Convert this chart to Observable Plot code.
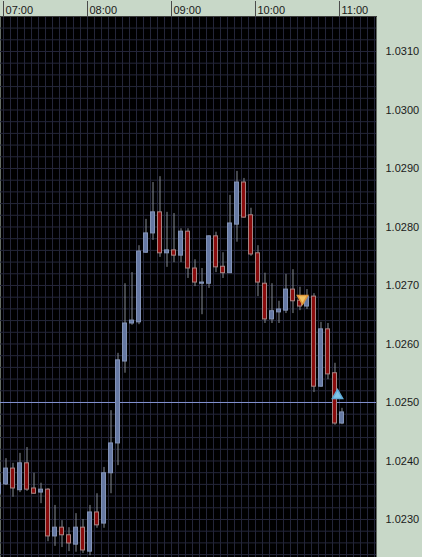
<!DOCTYPE html>
<html><head><meta charset="utf-8">
<script src="https://cdn.jsdelivr.net/npm/d3@7"></script>
<script src="https://cdn.jsdelivr.net/npm/@observablehq/plot@0.6"></script>
<style>html,body{margin:0;padding:0;background:#c8d8c8;overflow:hidden;}</style>
</head><body><div id="chart"></div>
<script>
const times = ["06:55","07:00","07:05","07:10","07:15","07:20","07:25","07:30","07:35","07:40","07:45","07:50","07:55",
  "08:00","08:05","08:10","08:15","08:20","08:25","08:30","08:35","08:40","08:45","08:50","08:55",
  "09:00","09:05","09:10","09:15","09:20","09:25","09:30","09:35","09:40","09:45","09:50","09:55",
  "10:00","10:05","10:10","10:15","10:20","10:25","10:30","10:35","10:40","10:45","10:50","10:55","11:00"];
const opens  = [1.02344,1.02360,1.02387,1.02350,1.02396,1.02353,1.02346,1.02351,1.02271,1.02286,1.02273,1.02257,1.02286,
  1.02245,1.02312,1.02293,1.02379,1.02430,1.02570,1.02635,1.02637,1.02756,1.02789,1.02825,1.02755,
  1.02760,1.02751,1.02792,1.02729,1.02703,1.02703,1.02784,1.02732,1.02721,1.02804,1.02876,1.02820,
  1.02755,1.02703,1.02642,1.02654,1.02657,1.02693,1.02674,1.02664,1.02681,1.02527,1.02625,1.02550,1.02464];
const highs  = [1.02367,1.02404,1.02396,1.02413,1.02423,1.02379,1.02362,1.02353,1.02324,1.02298,1.02286,1.02310,1.02300,
  1.02324,1.02344,1.02389,1.02486,1.02584,1.02703,1.02722,1.02768,1.02813,1.02876,1.02886,1.02825,
  1.02823,1.02797,1.02797,1.02744,1.02729,1.02785,1.02791,1.02756,1.02854,1.02895,1.02883,1.02832,
  1.02768,1.02721,1.02703,1.02673,1.02719,1.02727,1.02697,1.02693,1.02686,1.02637,1.02635,1.02567,1.02490];
const lows   = [1.02341,1.02358,1.02338,1.02346,1.02348,1.02343,1.02327,1.02262,1.02254,1.02252,1.02245,1.02244,1.02242,
  1.02238,1.02285,1.02285,1.02344,1.02392,1.02550,1.02632,1.02633,1.02755,1.02777,1.02748,1.02731,
  1.02739,1.02739,1.02712,1.02698,1.02650,1.02695,1.02722,1.02712,1.02721,1.02774,1.02815,1.02750,
  1.02681,1.02635,1.02635,1.02635,1.02652,1.02652,1.02657,1.02659,1.02517,1.02526,1.02539,1.02461,1.02462];
const closes = [1.02362,1.02387,1.02353,1.02396,1.02351,1.02344,1.02351,1.02271,1.02286,1.02273,1.02259,1.02286,1.02247,
  1.02312,1.02290,1.02379,1.02430,1.02572,1.02635,1.02640,1.02758,1.02789,1.02825,1.02755,1.02760,
  1.02751,1.02792,1.02729,1.02705,1.02705,1.02784,1.02731,1.02721,1.02806,1.02876,1.02816,1.02753,
  1.02705,1.02642,1.02656,1.02659,1.02693,1.02673,1.02664,1.02681,1.02527,1.02625,1.02548,1.02464,1.02483];
const priceTicks = [1.0230,1.0240,1.0250,1.0260,1.0270,1.0280,1.0290,1.0300,1.0310];
const hourTicks = ["07:00","08:00","09:00","10:00","11:00"];
const levelLine = [1.0250];
const signalTimes = ["10:33:36","10:58:36"];
const signalPrices = [1.02678,1.02512];
const signalDirs = ["sell","buy"];
const viewStart = "06:57:51", viewEnd = "11:26:26";
const priceMin = 1.02235, priceMax = 1.031598;

const toDate = s => new Date("2011-01-03T" + (s.length === 5 ? s + ":00" : s) + "Z");
const MIN = 60000;
const bars = times.map((t, i) => ({t: toDate(t), o: opens[i], h: highs[i], l: lows[i], c: closes[i]}));
const signals = signalTimes.map((t, i) => ({t: toDate(t), p: signalPrices[i], dir: signalDirs[i]}));

const bullFill = "#6679a3", bullStroke = "#8494b8";
const bearFill = "#8a0c0c", bearStroke = "#a88484";
const wickColor = "#858b93";
const gridColor = "#24263a";

const chart = Plot.plot({
  width: 422, height: 557,
  marginTop: 16, marginRight: 46, marginBottom: 0, marginLeft: 0,
  style: {background: "#c8d8c8", fontFamily: "'Liberation Sans', Arial, sans-serif", fontSize: "11px", color: "#1a1a1a"},
  x: {type: "utc", domain: [toDate(viewStart), toDate(viewEnd)], label: null},
  y: {domain: [priceMin, priceMax], label: null},
  marks: [
    Plot.frame({fill: "#000", stroke: null}),
    Plot.gridX({ticks: d3.utcMinute.every(5), stroke: gridColor, strokeOpacity: 1}),
    Plot.gridY({ticks: 46, stroke: gridColor, strokeOpacity: 1}),
    Plot.ruleY(levelLine, {stroke: "#8494d4", strokeWidth: 1}),
    Plot.ruleX(bars, {x: d => new Date(+d.t + 1.786 * MIN), y1: "l", y2: "h", stroke: wickColor}),
    Plot.rect(bars, {filter: d => d.c >= d.o, x1: d => new Date(+d.t + 0.357 * MIN), x2: d => new Date(+d.t + 3.214 * MIN), y1: "o", y2: "c", fill: bullFill, stroke: bullStroke}),
    Plot.rect(bars, {filter: d => d.c < d.o, x1: d => new Date(+d.t + 0.357 * MIN), x2: d => new Date(+d.t + 3.214 * MIN), y1: "o", y2: "c", fill: bearFill, stroke: bearStroke}),
    Plot.dot(signals, {filter: d => d.dir === "sell", x: "t", y: "p", symbol: "triangle", r: 3.8, rotate: 180, fill: "#f2c466", stroke: "#e0963a"}),
    Plot.dot(signals, {filter: d => d.dir === "buy", x: "t", y: "p", symbol: "triangle", r: 3.8, fill: "#80c6e8", stroke: "#5eaad8"}),
    Plot.frame({anchor: "top", stroke: "#3c3c3c"}),
    Plot.axisX({anchor: "top", ticks: hourTicks.map(toDate), tickSize: 16, text: null, label: null, stroke: "#4a4a4a"}),
    Plot.axisX({anchor: "top", ticks: hourTicks.map(toDate), tickSize: 0, tickPadding: 3, tickFormat: d3.utcFormat("%H:%M"), textAnchor: "start", dx: 2, label: null, fill: "#1a1a1a"}),
    Plot.axisY({anchor: "right", ticks: priceTicks, tickFormat: d3.format(".4f"), tickSize: 0, tickPadding: 9, label: null, fill: "#1a1a1a"})
  ]
});
document.getElementById("chart").appendChild(chart);
</script>
</body></html>
